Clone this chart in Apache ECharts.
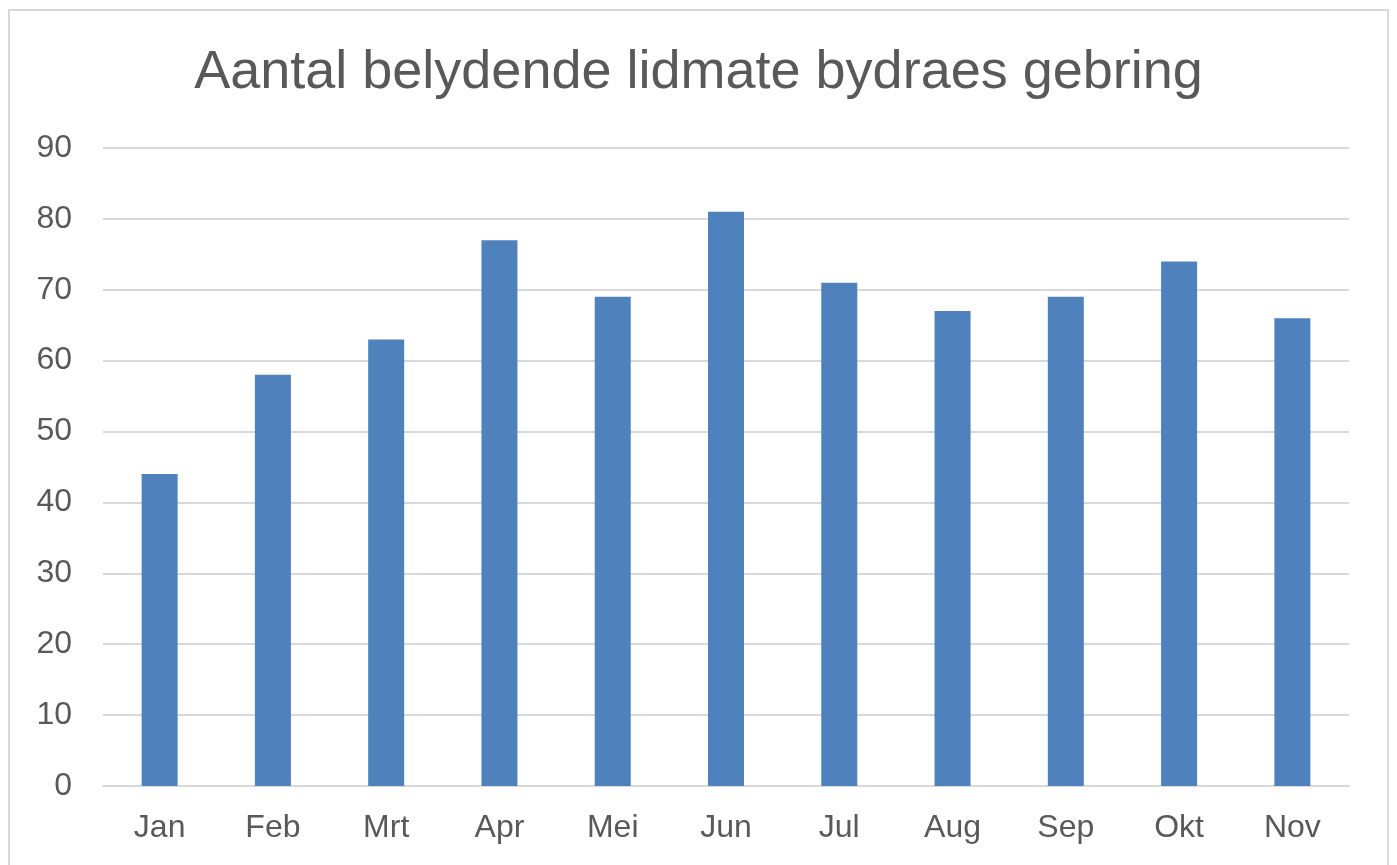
<!DOCTYPE html>
<html><head><meta charset="utf-8">
<script src="https://cdn.jsdelivr.net/npm/echarts@6/dist/echarts.min.js"></script>
<style>html,body{margin:0;padding:0;background:#fff}#c{width:1397px;height:865px}</style>
</head><body><div id="c"></div>
<script>
const categories = ['Jan','Feb','Mrt','Apr','Mei','Jun','Jul','Aug','Sep','Okt','Nov'];
const values = [44,58,63,77,69,81,71,67,69,74,66];
const chart = echarts.init(document.getElementById('c'));
chart.setOption({
  animation:false,
  backgroundColor:'#fff',
  graphic:[{type:'rect',shape:{x:9,y:10,width:1379,height:880},style:{fill:'none',stroke:'#d9d9d9',lineWidth:2},silent:true}],
  title:{text:'Aantal belydende lidmate bydraes gebring',left:'center',top:41,
    textStyle:{fontFamily:'Liberation Sans, Arial',fontSize:54,fontWeight:'normal',color:'#595959'}},
  grid:{left:103,right:48,top:148,bottom:79},
  xAxis:{type:'category',data:categories,
    axisLine:{lineStyle:{color:'#d9d9d9',width:2}},axisTick:{show:false},
    axisLabel:{fontFamily:'Liberation Sans, Arial',fontSize:32,color:'#595959',margin:26}},
  yAxis:{type:'value',min:0,max:90,interval:10,
    axisLine:{show:false},axisTick:{show:false},
    splitLine:{lineStyle:{color:'#d9d9d9',width:2}},
    axisLabel:{fontFamily:'Liberation Sans, Arial',fontSize:32,color:'#595959',margin:31}},
  series:[{type:'bar',data:values,barWidth:36,itemStyle:{color:'#4f81bd'}}]
});
</script></body></html>
